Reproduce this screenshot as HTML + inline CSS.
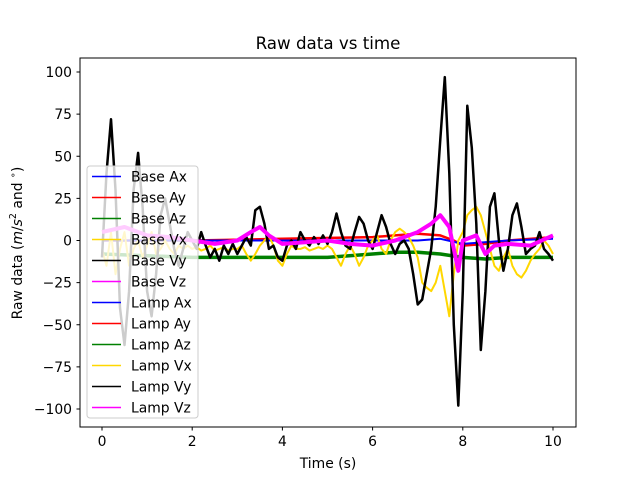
<!DOCTYPE html>
<html><head><meta charset="utf-8"><style>body{margin:0;background:#fff}svg{display:block;font-family:"DejaVu Sans","Liberation Sans",sans-serif}</style></head>
<body>
<svg id="chart" width="640" height="480" xmlns="http://www.w3.org/2000/svg">
<rect width="640" height="480" fill="#fff"/>
<defs><clipPath id="clip"><rect x="80" y="58" width="496" height="369"/></clipPath></defs>
<g id="series" clip-path="url(#clip)"></g>
<rect x="80" y="58" width="496" height="369" fill="none" stroke="#000" stroke-width="1"/>
<g id="axes"></g>
<text x="328" y="49" font-size="16.7" text-anchor="middle">Raw data vs time</text>
<text x="328" y="468" font-size="13.9" text-anchor="middle">Time (s)</text>
<text transform="translate(22,243) rotate(-90)" font-size="13.9" text-anchor="middle">Raw data (<tspan font-style="italic">m</tspan>/<tspan font-style="italic">s</tspan><tspan font-size="9.5" dy="-6">2</tspan><tspan dy="6"> and </tspan><tspan font-size="9.5" dy="-6">∘</tspan><tspan dy="6">)</tspan></text>
<g id="legend"></g>
</svg>
<script>
const xTicks=[0,2,4,6,8,10];
const yTicks=[100,75,50,25,0,-25,-50,-75,-100];
const legendLabels=["Base Ax","Base Ay","Base Az","Base Vx","Base Vy","Base Vz","Lamp Ax","Lamp Ay","Lamp Az","Lamp Vx","Lamp Vy","Lamp Vz"];
const legendColors=["#0000ff","#ff0000","#008000","#ffd700","#000000","#ff00ff","#0000ff","#ff0000","#008000","#ffd700","#000000","#ff00ff"];
const tStep=[0,0.1,0.2,0.3,0.4,0.5,0.6,0.7,0.8,0.9,1,1.1,1.2,1.3,1.4,1.5,1.6,1.7,1.8,1.9,2,2.1,2.2,2.3,2.4,2.5,2.6,2.7,2.8,2.9,3,3.1,3.2,3.3,3.4,3.5,3.6,3.7,3.8,3.9,4,4.1,4.2,4.3,4.4,4.5,4.6,4.7,4.8,4.9,5,5.1,5.2,5.3,5.4,5.5,5.6,5.7,5.8,5.9,6,6.1,6.2,6.3,6.4,6.5,6.6,6.7,6.8,6.9,7,7.1,7.2,7.3,7.4,7.5,7.6,7.7,7.8,7.9,8,8.1,8.2,8.3,8.4,8.5,8.6,8.7,8.8,8.9,9,9.1,9.2,9.3,9.4,9.5,9.6,9.7,9.8,9.9,10];
const vyValues=[-10,40,72,30,-40,-62,-30,30,52,20,-30,-45,-20,15,25,10,-5,-15,-5,5,0,-5,5,-3,-10,-5,-12,-3,-8,-2,-8,-3,2,-3,18,20,10,-5,-3,-10,-12,-3,0,-5,5,0,-3,2,-2,3,-2,5,16,5,-3,-5,5,14,10,0,-5,5,15,8,-2,-8,-2,0,-5,-20,-38,-35,-20,-5,20,60,97,40,-50,-98,-30,80,55,10,-65,-30,20,28,0,-18,-5,15,22,8,-8,-5,-3,5,-5,-8,-12];
const vxValues=[-5,-15,5,-20,-5,5,-15,-5,0,-10,-3,5,-8,-5,0,-5,-8,-3,-5,-3,-5,-4,-6,-5,-3,-6,-5,-4,-6,-5,-5,-3,-8,-12,-8,-3,0,3,-3,-12,-15,-8,-3,-5,-5,-4,-6,-5,-4,-5,-3,-5,-10,-15,-8,-3,-8,-15,-10,-3,0,3,-5,-8,0,5,7,5,2,-3,-10,-25,-28,-30,-25,-15,-30,-45,-20,0,5,15,18,20,15,5,-5,-15,-18,-10,-5,-15,-20,-22,-18,-12,-8,-5,0,-3,-8];
const vzTimes=[0,0.5,1,1.5,2,2.5,3,3.3,3.5,3.7,4,4.5,5,5.5,6,6.5,7,7.3,7.5,7.7,7.8,7.9,8,8.3,8.5,8.7,9,9.5,10];
const vzValues=[5,8,3,2,0,-2,0,5,8,3,-2,-1,0,-2,-3,0,5,10,15,8,-5,-18,0,3,-8,-3,-2,-3,3];
const azTimes=[0,1,2,3,4,5,6,6.5,7,7.5,8,8.5,9,10];
const azValues=[-8,-9,-10,-10,-10,-10,-8,-7,-7,-8,-10,-11,-10,-10];
const ayTimes=[0,2,4,6,6.5,7,7.5,7.8,8,8.5,9,10];
const ayValues=[0,0,1,2,3,4,3,0,-3,-2,0,2];
const axTimes=[0,5,7,7.5,8,9,10];
const axValues=[0,0,0,1,-2,0,1];

const xS=t=>102+t*45.1;
const yS=v=>240.5-v*1.685;
const NS="http://www.w3.org/2000/svg";
function mk(tag,attrs,parent){const e=document.createElementNS(NS,tag);for(const k in attrs)e.setAttribute(k,attrs[k]);parent.appendChild(e);return e;}
const sg=document.getElementById('series');
function line(ts,vs,color,w,name){
  const p=mk('polyline',{points:ts.map((t,i)=>xS(t).toFixed(1)+','+yS(vs[i]).toFixed(1)).join(' '),fill:'none',stroke:color,'stroke-width':w,'stroke-linejoin':'round'},sg);
  
  
}
line(azTimes,azValues,'#008000',3.5,'series-az');
line(ayTimes,ayValues,'#ff0000',2.5,'series-ay');
line(axTimes,axValues,'#0000ff',2,'series-ax');
line(tStep,vxValues,'#ffd700',2,'series-vx');
line(tStep,vyValues,'#000000',2.5,'series-vy');
line(vzTimes,vzValues,'#ff00ff',4,'series-vz');

const ax=document.getElementById('axes');
xTicks.forEach(t=>{
  mk('line',{x1:xS(t),x2:xS(t),y1:427,y2:430.5,stroke:'#000'},ax);
  const tx=mk('text',{x:xS(t),y:446,'font-size':13.9,'text-anchor':'middle'},ax);tx.textContent=t;
  
  
});
yTicks.forEach(v=>{
  mk('line',{x1:76.5,x2:80,y1:yS(v),y2:yS(v),stroke:'#000'},ax);
  const tx=mk('text',{x:72,y:yS(v)+5,'font-size':13.9,'text-anchor':'end'},ax);tx.textContent=(v<0?'\u2212'+(-v):v);
  
  
});

const lg=document.getElementById('legend');


mk('rect',{x:87,y:166,width:111,height:252,rx:3,fill:'#fff','fill-opacity':0.8,stroke:'#ccc'},lg);
legendLabels.forEach((l,i)=>{
  const y=176.5+i*21;
  const g=mk('g',{},lg);
  
  
  mk('line',{x1:92,x2:121,y1:y,y2:y,stroke:legendColors[i],'stroke-width':1.6},g);
  const tx=mk('text',{x:131,y:y+5,'font-size':13.9},g);tx.textContent=l;
});
</script>
</body></html>
